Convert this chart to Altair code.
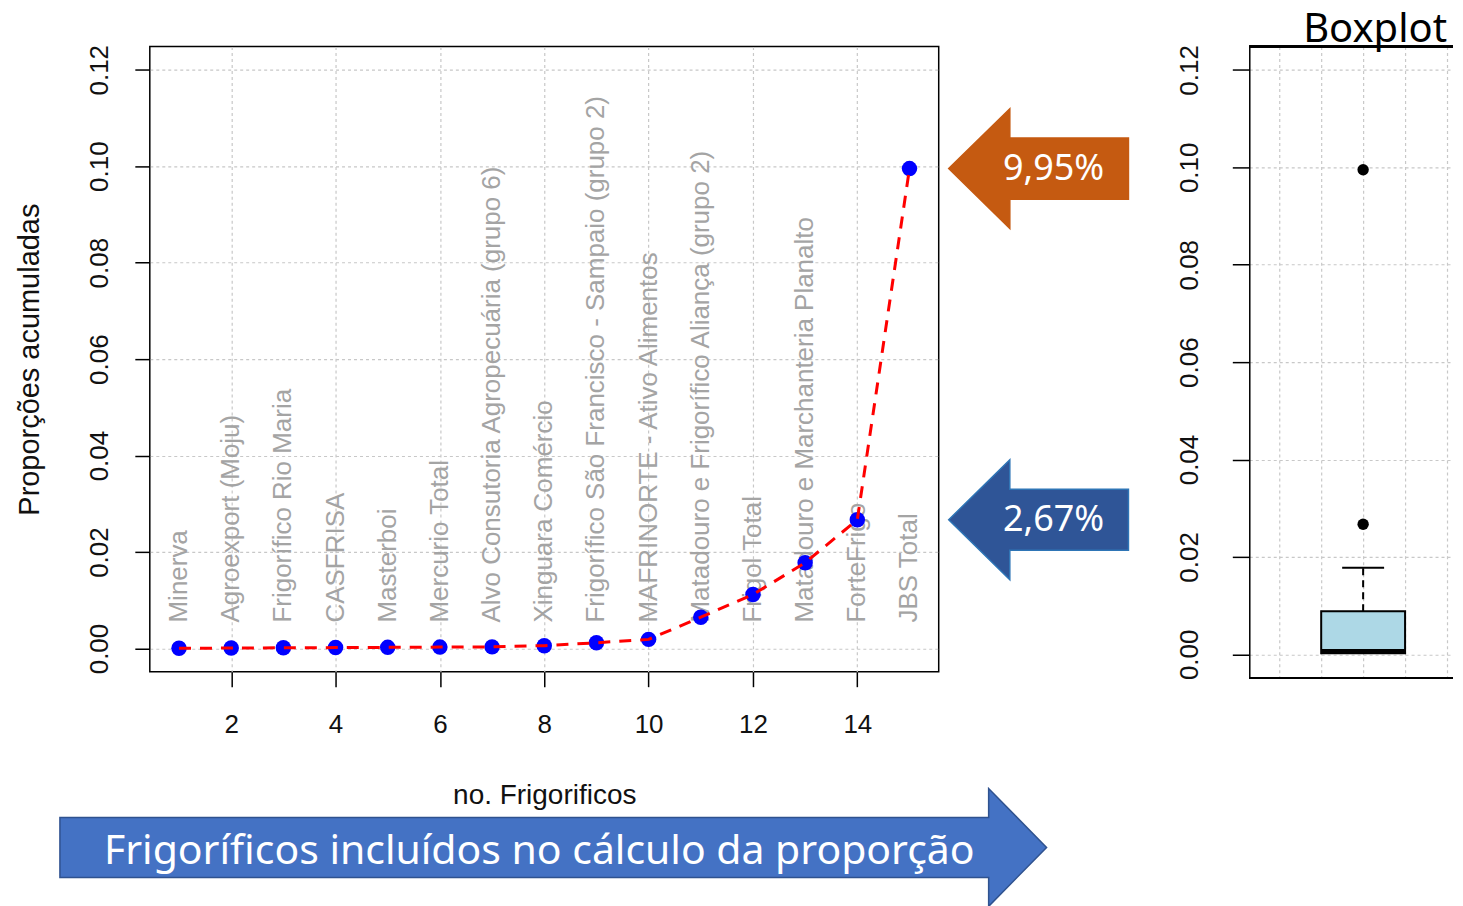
import altair as alt
import pandas as pd

# ---------------- data ----------------
n_frig = list(range(1, 16))
frig_names = [
    "Minerva",
    "Agroexport (Moju)",
    "Frigorífico Rio Maria",
    "CASFRISA",
    "Masterboi",
    "Mercurio Total",
    "Alvo Consutoria  Agropecuária (grupo 6)",
    "Xinguara Comércio",
    "Frigorífico São Francisco - Sampaio (grupo 2)",
    "MAFRINORTE - Ativo Alimentos",
    "Matadouro e Frigorífico Aliança (grupo 2)",
    "Frigol Total",
    "Matadouro e Marchanteria Planalto",
    "ForteFrigo",
    "JBS Total",
]
prop_acum = [0.00005, 0.0001, 0.00015, 0.0002, 0.00025, 0.0003, 0.00035,
             0.0006, 0.0012, 0.0019, 0.0065, 0.0112, 0.0178, 0.0267, 0.0995]

y_ticks = [0.00, 0.02, 0.04, 0.06, 0.08, 0.10, 0.12]
x_ticks = [2, 4, 6, 8, 10, 12, 14]
box_grid_x = [0.2, 0.6, 1.0, 1.4, 1.8]

ann_values = [0.0995, 0.0267]
ann_labels = ["9,95%", "2,67%"]
ann_fill = ["#C55A11", "#2F5597"]
ann_stroke = ["#C55A11", "#2E75B6"]

bottom_label = ["Frigoríficos incluídos no cálculo da proporção"]
x_title = "no. Frigorificos"
y_title = "Proporções acumuladas"
box_title = "Boxplot"

df = pd.DataFrame({"n": n_frig, "nome": frig_names, "p": prop_acum})
ann = pd.DataFrame({"v": ann_values, "label": ann_labels,
                    "fill": ann_fill, "stroke": ann_stroke})
bottom_df = pd.DataFrame({"label": bottom_label})

# ---------------- style ----------------
Y_DOM = [-0.0048, 0.1248]
X_DOM = [0.44, 15.56]
BX_DOM = [-0.0857, 1.857]
R_FONT = "Liberation Sans"
PPT_FONT = "Noto Sans"
GRID = dict(grid=True, gridColor="#c8c8c8", gridDash=[3, 3], gridWidth=1.2)

LEFT_ARROW = ("M -1 0 L -0.32 -0.667 L -0.32 -0.34 L 1 -0.34 L 1 0.34 "
              "L -0.32 0.34 L -0.32 0.667 Z")
RIGHT_ARROW = ("M -1 -0.0607 L 0.8826 -0.0607 L 0.8826 -0.1194 L 1 0 "
               "L 0.8826 0.1194 L 0.8826 0.0607 L -1 0.0607 Z")

y_scale = alt.Scale(domain=Y_DOM, nice=False, zero=False)
x_scale = alt.Scale(domain=X_DOM, nice=False, zero=False)

y_axis = alt.Axis(values=y_ticks, format=".2f", title=y_title,
                  labelAngle=-90, labelAlign="center", labelBaseline="bottom",
                  labelFontSize=26, labelPadding=22, labelColor="#111",
                  tickSize=15, tickWidth=1.5, tickColor="black",
                  titleFontSize=29, titlePadding=42, titleColor="#111",
                  domain=False, **GRID)
x_axis = alt.Axis(values=x_ticks, format="d", title=x_title,
                  labelFontSize=26, labelPadding=25, labelColor="#111",
                  tickSize=15, tickWidth=1.5, tickColor="black",
                  titleFontSize=28, titlePadding=44, titleColor="#111",
                  domain=False, **GRID)

X_ENC = alt.X("n:Q", scale=x_scale, axis=x_axis)

base = alt.Chart(df)

labels = base.mark_text(angle=270, align="left", baseline="middle",
                        fontSize=26, color="#A4A4A4", font=R_FONT).encode(
    x=X_ENC,
    y=alt.YDatum(0.0054, type="quantitative", scale=y_scale, axis=y_axis),
    text="nome:N",
)
points = base.mark_point(filled=True, size=240, color="#0000FF", opacity=1).encode(
    x=X_ENC,
    y=alt.Y("p:Q", scale=y_scale, axis=y_axis),
)
line = base.mark_line(color="#FF0000", strokeDash=[12, 9], strokeWidth=3).encode(
    x=X_ENC,
    y=alt.Y("p:Q", scale=y_scale, axis=y_axis),
)

ann_base = alt.Chart(ann)
arrows = ann_base.mark_point(shape=LEFT_ARROW, size=180 ** 2, filled=True,
                             strokeWidth=1.5, opacity=1).encode(
    x=alt.value(890),
    y=alt.Y("v:Q", scale=y_scale, axis=y_axis),
    fill=alt.Color("fill:N", scale=None),
    stroke=alt.Color("stroke:N", scale=None),
)
arrow_text = ann_base.mark_text(color="white", fontSize=36, font=PPT_FONT).encode(
    x=alt.value(905),
    y=alt.Y("v:Q", scale=y_scale, axis=y_axis),
    text="label:N",
)

bottom_base = alt.Chart(bottom_df)
bottom_arrow = bottom_base.mark_point(shape=RIGHT_ARROW, size=988 ** 2, filled=True,
                                      fill="#4472C4", stroke="#2F528F",
                                      strokeWidth=1.5, opacity=1).encode(
    x=alt.value(404), y=alt.value(802)
)
bottom_text = bottom_base.mark_text(color="white", fontSize=41, font=PPT_FONT).encode(
    x=alt.value(390), y=alt.value(807), text="label:N"
)

main = alt.layer(labels, points, line, arrows, arrow_text, bottom_arrow, bottom_text).properties(
    width=790, height=626,
    view=alt.ViewBackground(stroke="black", strokeWidth=1.5),
)

# ---------------- boxplot ----------------
bx_scale = alt.Scale(domain=BX_DOM, nice=False, zero=False)
by_scale = alt.Scale(domain=Y_DOM, nice=False, zero=False)
bx_axis = alt.Axis(values=box_grid_x, labels=False, ticks=False, domain=False,
                   title=None, **GRID)
by_axis = alt.Axis(values=y_ticks, format=".2f", title=None,
                   labelAngle=-90, labelAlign="center", labelBaseline="bottom",
                   labelFontSize=26, labelPadding=30, labelColor="#111",
                   tickSize=17, tickWidth=1.5, tickColor="black",
                   domain=True, domainColor="black", domainWidth=1.5, **GRID)


def BX(v):
    return alt.XDatum(v, type="quantitative", scale=bx_scale, axis=bx_axis)


def BY(field):
    return alt.Y(field, type="quantitative", scale=by_scale, axis=by_axis)


bbase = alt.Chart(df)
fenced = bbase.transform_joinaggregate(
    q1="q1(p)", q3="q3(p)"
).transform_calculate(
    upper="datum.q3 + 1.5 * (datum.q3 - datum.q1)",
    lower="datum.q1 - 1.5 * (datum.q3 - datum.q1)",
)

box = bbase.transform_aggregate(q1="q1(p)", q3="q3(p)").mark_bar(
    fill="#ADD8E6", stroke="black", strokeWidth=2
).encode(x=BX(0.6), x2=alt.datum(1.4), y=BY("q1"), y2="q3:Q")

median = bbase.transform_aggregate(med="median(p)").mark_rule(
    color="black", strokeWidth=5
).encode(x=BX(0.6), x2=alt.datum(1.4), y=BY("med"))

upper_w = fenced.transform_filter("datum.p <= datum.upper").transform_aggregate(
    wmax="max(p)", q3="max(q3)"
)
whisker = upper_w.mark_rule(color="black", strokeWidth=2, strokeDash=[7, 5]).encode(
    x=BX(1.0), y=BY("q3"), y2="wmax:Q"
)
staple = upper_w.mark_rule(color="black", strokeWidth=2).encode(
    x=BX(0.8), x2=alt.datum(1.2), y=BY("wmax")
)
outliers = fenced.transform_filter(
    "datum.p > datum.upper || datum.p < datum.lower"
).mark_circle(size=130, color="black", opacity=1).encode(
    x=BX(1.0), y=BY("p")
)
frame_top = bbase.mark_rule(color="black", strokeWidth=1.5).encode(
    y=alt.YDatum(Y_DOM[1], type="quantitative", scale=by_scale, axis=by_axis)
)
frame_bottom = bbase.mark_rule(color="black", strokeWidth=1.5).encode(
    y=alt.YDatum(Y_DOM[0], type="quantitative", scale=by_scale, axis=by_axis)
)

boxplot = alt.layer(box, median, whisker, staple, outliers, frame_top, frame_bottom).properties(
    width=204, height=632,
    title=alt.TitleParams(box_title, fontSize=40, font=PPT_FONT, fontWeight="normal",
                          anchor="middle", dx=24, offset=-5, color="black"),
    view=alt.ViewBackground(stroke="transparent"),
)

chart = alt.hconcat(main, boxplot, spacing=311, bounds="flush").properties(
    padding={"left": 7, "top": 0, "right": 0, "bottom": 0}
).configure_axis(
    labelFont=R_FONT, titleFont=R_FONT, titleFontWeight="normal"
).configure_view(stroke="transparent")

chart.save("out.html", embed_options={"renderer": "svg", "actions": False})
